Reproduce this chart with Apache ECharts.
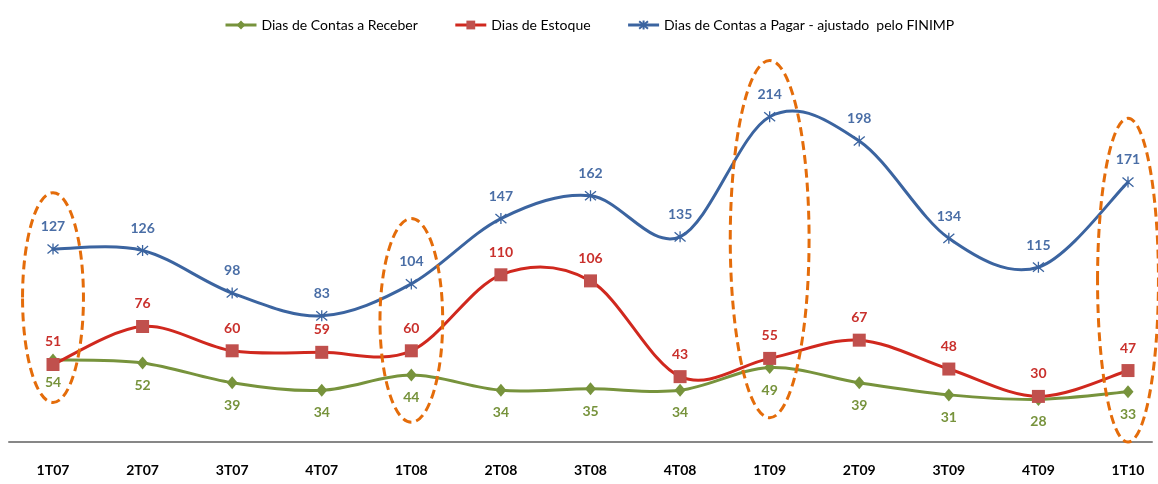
<!DOCTYPE html>
<html><head><meta charset="utf-8">
<script src="https://cdn.jsdelivr.net/npm/echarts@6/dist/echarts.min.js"></script>
<style>html,body{margin:0;padding:0;background:#fff}#c{width:1158px;height:484px}</style>
</head><body><div id="c"></div>
<script>
const categories = ['1T07','2T07','3T07','4T07','1T08','2T08','3T08','4T08','1T09','2T09','3T09','4T09','1T10'];
const receber = [54, 52, 39, 34, 44, 34, 35, 34, 49, 39, 31, 28, 33];
const estoque = [51, 76, 60, 59, 60, 110, 106, 43, 55, 67, 48, 30, 47];
const pagar = [127, 126, 98, 83, 104, 147, 162, 135, 214, 198, 134, 115, 171];
const names = ['Dias de Contas a Receber', 'Dias de Estoque', 'Dias de Contas a Pagar - ajustado  pelo FINIMP'];
// highlighted periods (dashed ellipses): category, low value, high value
const hlCats = ['1T07', '1T08', '1T09', '1T10'];
const hlLow = [26, 13, 16, 0];
const hlHigh = [164, 147, 251, 213];
const hlHalfWidth = [0.34, 0.35, 0.44, 0.34];

const FONT = 'Lato, "Open Sans", sans-serif';
const GREEN = '#77933C', RED = '#D0281E', BLUE = '#3B64A0';
const chart = echarts.init(document.getElementById('c'));
const star = 'path://M0,0L10,10M10,0L0,10M5,-1L5,11';
function labelCfg(color, pos) {
  return {show: true, position: pos, distance: 9, color: color, fontFamily: FONT, fontWeight: 'bold', fontSize: 14};
}
// Excel-like smoothed line drawn through the axes (Catmull-Rom Bezier segments)
function smoothLine(values, color) {
  return {
    type: 'custom', xAxisIndex: 0, yAxisIndex: 0, clip: false, silent: true, z: 2,
    data: values.map((v, i) => [i, v]),
    renderItem: function (params, api) {
      const i = params.dataIndex;
      const n = values.length;
      if (i >= n - 1) return null;
      const P = j => api.coord([Math.max(0, Math.min(n - 1, j)), values[Math.max(0, Math.min(n - 1, j))]]);
      const p0 = P(i - 1), p1 = P(i), p2 = P(i + 1), p3 = P(i + 2);
      return {
        type: 'bezierCurve',
        shape: {
          x1: p1[0], y1: p1[1], x2: p2[0], y2: p2[1],
          cpx1: p1[0] + (p2[0] - p0[0]) / 6, cpy1: p1[1] + (p2[1] - p0[1]) / 6,
          cpx2: p2[0] - (p3[0] - p1[0]) / 6, cpy2: p2[1] - (p3[1] - p1[1]) / 6
        },
        style: {fill: 'none', stroke: color, lineWidth: 3, lineCap: 'round'}
      };
    }
  };
}
chart.setOption({
  animation: false,
  legend: {
    data: [
      {name: names[0], lineStyle: {color: GREEN, width: 3, opacity: 1}},
      {name: names[1], lineStyle: {color: RED, width: 3, opacity: 1}},
      {name: names[2], lineStyle: {color: BLUE, width: 3, opacity: 1}}
    ],
    top: 13, left: 219, itemWidth: 31, itemHeight: 11, itemGap: 36,
    textStyle: {fontFamily: FONT, fontSize: 14, color: '#000'}
  },
  grid: [
    {left: 53, right: 30, top: 62, bottom: 42},
    {left: 9, right: 6, top: 62, bottom: 42}
  ],
  xAxis: [
    {type: 'category', gridIndex: 0, data: categories, boundaryGap: false,
     axisLine: {show: false}, axisTick: {show: false}, splitLine: {show: false},
     axisLabel: {margin: 21, color: '#000', fontFamily: FONT, fontWeight: 'bold', fontSize: 14}},
    {type: 'value', gridIndex: 1, min: 0, max: 1, axisLabel: {show: false}, axisTick: {show: false},
     splitLine: {show: false}, axisLine: {show: true, lineStyle: {color: '#878787', width: 2}}}
  ],
  yAxis: [
    {type: 'value', gridIndex: 0, min: 0, max: 250, show: false},
    {type: 'value', gridIndex: 1, min: 0, max: 1, show: false}
  ],
  series: [
    {name: names[0], type: 'line', data: receber, symbol: 'diamond', symbolSize: [11, 13],
     lineStyle: {color: GREEN, width: 3, opacity: 0}, itemStyle: {color: GREEN},
     label: labelCfg(GREEN, 'bottom'), z: 3},
    {name: names[1], type: 'line', data: estoque, symbol: 'rect', symbolSize: 13,
     lineStyle: {color: RED, width: 3, opacity: 0}, itemStyle: {color: '#C0504D'},
     label: labelCfg('#C9302C', 'top'), z: 4},
    {name: names[2], type: 'line', data: pagar, symbol: star, symbolSize: 11,
     lineStyle: {color: BLUE, width: 3, opacity: 0}, itemStyle: {color: 'rgba(0,0,0,0)', borderColor: BLUE, borderWidth: 1.3},
     label: labelCfg('#4A6EA6', 'top'), z: 5},
    smoothLine(receber, GREEN),
    smoothLine(estoque, RED),
    smoothLine(pagar, BLUE),
    {type: 'custom', xAxisIndex: 0, yAxisIndex: 0, clip: false, silent: true, z: 6,
     data: hlCats.map((c, i) => [categories.indexOf(c), hlLow[i], hlHigh[i], hlHalfWidth[i]]),
     renderItem: function (params, api) {
       const x = api.value(0);
       const top = api.coord([x, api.value(2)]);
       const bot = api.coord([x, api.value(1)]);
       const bw = api.size([1, 0])[0];
       return {
         type: 'ellipse',
         shape: {cx: top[0], cy: (top[1] + bot[1]) / 2, rx: api.value(3) * bw, ry: (bot[1] - top[1]) / 2},
         style: {fill: 'none', stroke: '#E46C0A', lineWidth: 3, lineDash: [9, 5]}
       };
     }}
  ]
});
</script></body></html>
